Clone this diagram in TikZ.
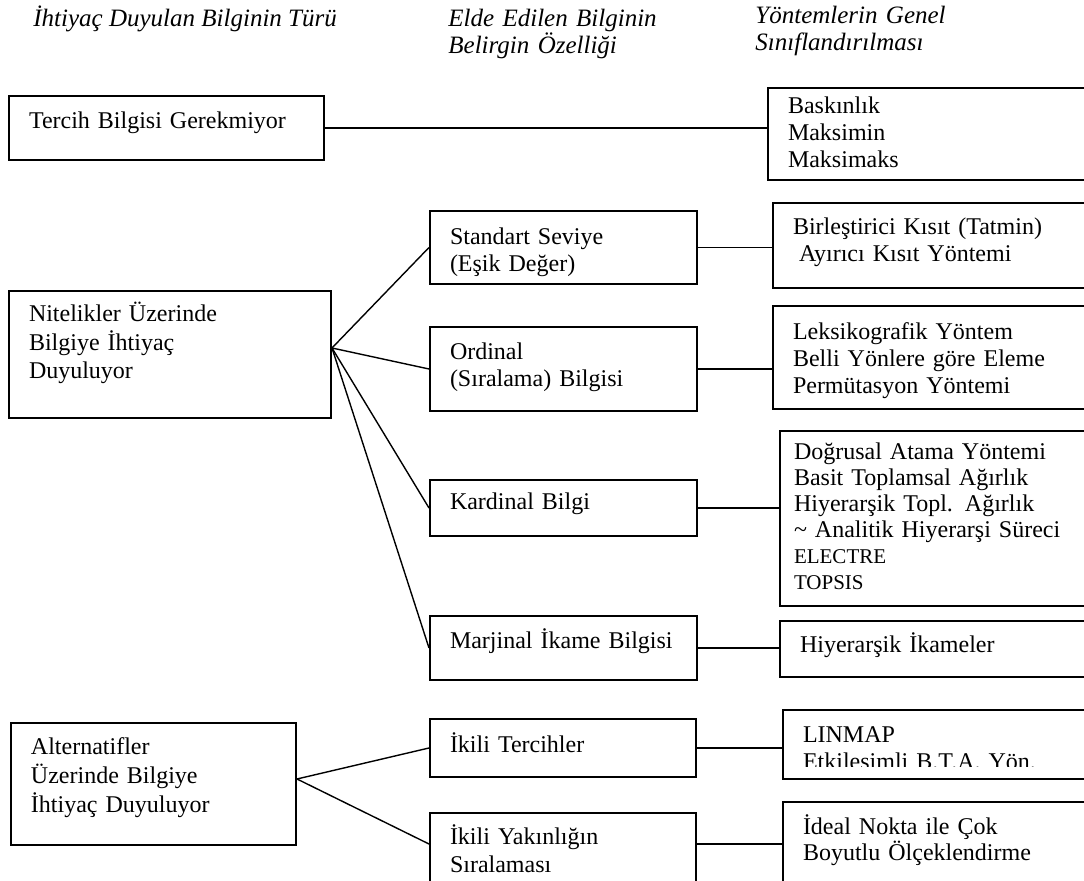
\documentclass[tikz,border=0pt]{standalone}
\usepackage{fontspec}
\setmainfont{Liberation Serif}
\usetikzlibrary{calc}
\tikzset{
	infobox/.style={draw=black, line width=1pt, anchor=north west, align=left,
		inner xsep=10pt, inner ysep=0pt, font=\fontsize{12}{13.5}\selectfont},
	dims/.style n args={3}{text width=#1pt, text height=#2pt, text depth=#3pt},
	heading/.style={anchor=base west, align=left, inner sep=0pt,
		font=\fontsize{12.5}{13.5}\selectfont\itshape},
	connector/.style={draw=black, line width=0.7pt},
}

\begin{document}
\begin{tikzpicture}[x=0.5pt, y=-0.5pt]
	\useasboundingbox (0,0) rectangle (1084,881);
	\clip (0,0) rectangle (1084,881);
	% column titles
	\node[heading] (hneed) at (33,27) {İhtiyaç Duyulan Bilginin Türü};
	\node[heading, text width=140pt] (hfeat) at (448,27) {Elde Edilen Bilginin\\Belirgin Özelliği};
	\node[heading, text width=140pt] (hmeth) at (755,24) {Yöntemlerin Genel\\Sınıflandırılması};
	% first column
	\node[infobox, dims={137.5}{16.5}{15.5}] (tercih) at (8,95) {Tercih Bilgisi Gerekmiyor};
	\node[infobox, dims={141}{15.5}{48}, font=\fontsize{12}{14.25}\selectfont] (nitel) at (8,290) {Nitelikler Üzerinde\\Bilgiye İhtiyaç\\Duyuluyor};
	\node[infobox, dims={122.5}{16}{45}, font=\fontsize{12}{14.5}\selectfont] (alter) at (10,722) {Alternatifler\\Üzerinde Bilgiye\\İhtiyaç Duyuluyor};
	% second column
	\node[infobox, dims={113.5}{17}{19.5}] (std) at (429,210) {Standart Seviye\\(Eşik Değer)};
	\node[infobox, dims={113.5}{16.5}{25.5}] (ord) at (429,326) {Ordinal\\(Sıralama) Bilgisi};
	\node[infobox, dims={113.5}{15}{13}] (kard) at (429,479) {Kardinal Bilgi};
	\node[infobox, dims={113.5}{16.5}{15.5}] (marj) at (429,615) {Marjinal İkame Bilgisi};
	\node[infobox, dims={113}{17}{12}] (ikt) at (429,718) {İkili Tercihler};
	\node[infobox, dims={113}{16}{34}, font=\fontsize{12}{14}\selectfont] (yakin) at (429,812) {İkili Yakınlığın\\Sıralaması};
	% third column
	\node[infobox, dims={151.5}{13}{33}] (bask) at (767,87) {Baskınlık\\Maksimin\\Maksimaks};
	\node[infobox, dims={149}{16}{26.5}] (birl) at (772,202) {Birleştirici Kısıt (Tatmin)\\\hspace*{3pt}Ayırıcı Kısıt Yöntemi};
	\node[infobox, dims={149}{17}{34.5}] (leks) at (772,305) {Leksikografik Yöntem\\Belli Yönlere göre Eleme\\Permütasyon Yöntemi};
	\node[infobox, dims={151.5}{14.5}{73}, inner xsep=7pt, font=\fontsize{12}{13}\selectfont] (dogr) at (779,430) {Doğrusal Atama Yöntemi\\Basit Toplamsal Ağırlık\\Hiyerarşik Topl. Ağırlık\\\textasciitilde{} Analitik Hiyerarşi Süreci\\{\fontsize{10.5}{13}\selectfont ELECTRE}\\{\fontsize{10.5}{13}\selectfont TOPSIS}};
	\node[infobox, dims={145.5}{16}{12}] (ikame) at (779,620) {Hiyerarşik İkameler};
	\node[infobox, dims={144}{16.5}{18}] (linmap) at (782,709) {LINMAP\\Etkileşimli B.T.A. Yön.};
	\fill[white] (783.5,767) rectangle (1084,776.5);
	\node[infobox, dims={144}{16.5}{33.5}, font=\fontsize{12}{13}\selectfont] (ideal) at (782,801) {İdeal Nokta ile Çok\\Boyutlu Ölçeklendirme};
	% connectors
	\coordinate (nfan) at ([yshift=3.25pt]nitel.east);
	\coordinate (afan) at ([yshift=2.5pt]alter.east);
	\coordinate (yin) at ([yshift=-16pt]yakin.north west);
	\coordinate (yout) at ([yshift=-16pt]yakin.north east);
	\draw[connector] (tercih.east) -- (tercih.east -| bask.west);
	\foreach \t in {std,ord,kard,marj}
		\draw[connector] (nfan) -- (\t.west);
	\draw[connector] (std.east) -- (std.east -| birl.west);
	\draw[connector] (ord.east) -- (ord.east -| leks.west);
	\draw[connector] (kard.east) -- (kard.east -| dogr.west);
	\draw[connector] (marj.east) -- (marj.east -| ikame.west);
	\draw[connector] (afan) -- (ikt.west);
	\draw[connector] (afan) -- (yin);
	\draw[connector] (ikt.east) -- (ikt.east -| linmap.west);
	\draw[connector] (yout) -- (yout -| ideal.west);
\end{tikzpicture}
\end{document}
